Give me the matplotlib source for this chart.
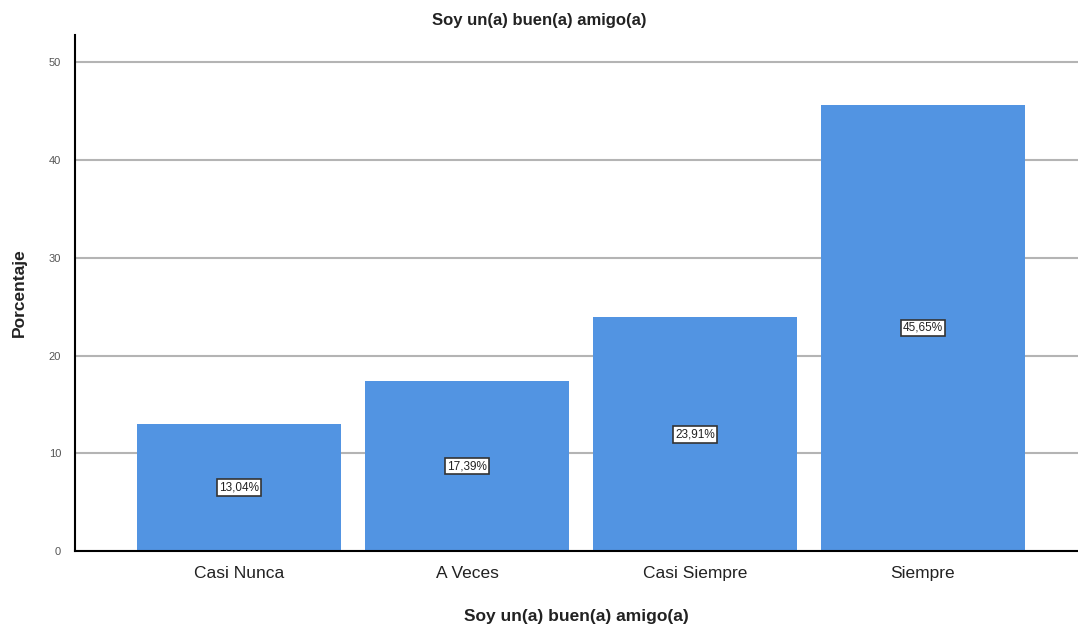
import matplotlib
matplotlib.use("Agg")
import numpy as np
import matplotlib.pyplot as plt

categories = ["Casi Nunca", "A Veces", "Casi Siempre", "Siempre"]
percentages = [13.04, 17.39, 23.91, 45.65]
labels = ["13,04%", "17,39%", "23,91%", "45,65%"]

plt.rcParams["font.family"] = ["Liberation Sans", "DejaVu Sans"]

fig = plt.figure(figsize=(10.78, 6.33), dpi=100)
ax = fig.add_axes([75 / 1078, 1 - 551 / 633, 1 - 75 / 1078, (551 - 35) / 633])

x = np.arange(len(categories))
ax.bar(x, percentages, width=0.895, color="#5294e2", zorder=2)
ax.set_xlim(-0.72, 3.68)
ax.set_ylim(0, 52.8)
ax.set_yticks([0, 10, 20, 30, 40, 50])
ax.yaxis.grid(True, color="#b4b4b4", linewidth=1.5, zorder=0)
ax.set_axisbelow(True)

# value labels in the middle of each bar
for xi, v, lab in zip(x, percentages, labels):
    ax.text(xi, v / 2, lab, ha="center", va="center", fontsize=8.5,
            color="#222222", zorder=3,
            bbox=dict(boxstyle="square,pad=0.2", facecolor="white",
                      edgecolor="#333333", linewidth=1.2))

ax.set_xticks(x)
ax.set_xticklabels(categories, fontsize=12.5, color="#222222")
ax.tick_params(axis="x", length=0, pad=11)
ax.tick_params(axis="y", length=0, labelsize=8, labelcolor="#555555", pad=10)

for side in ["top", "right"]:
    ax.spines[side].set_visible(False)
ax.spines["left"].set_linewidth(1.5)
ax.spines["bottom"].set_linewidth(1.5)

ax.set_xlabel("Soy un(a) buen(a) amigo(a)", fontsize=12.5, fontweight="bold",
              color="#222222", labelpad=20)
ax.set_ylabel("Porcentaje", fontsize=12.5, fontweight="bold", color="#222222",
              labelpad=16)
fig.text(0.5, 1 - 20 / 633, "Soy un(a) buen(a) amigo(a)", ha="center",
         va="center", fontsize=12, fontweight="bold", color="#222222")

fig.savefig("out.png", dpi=100)
